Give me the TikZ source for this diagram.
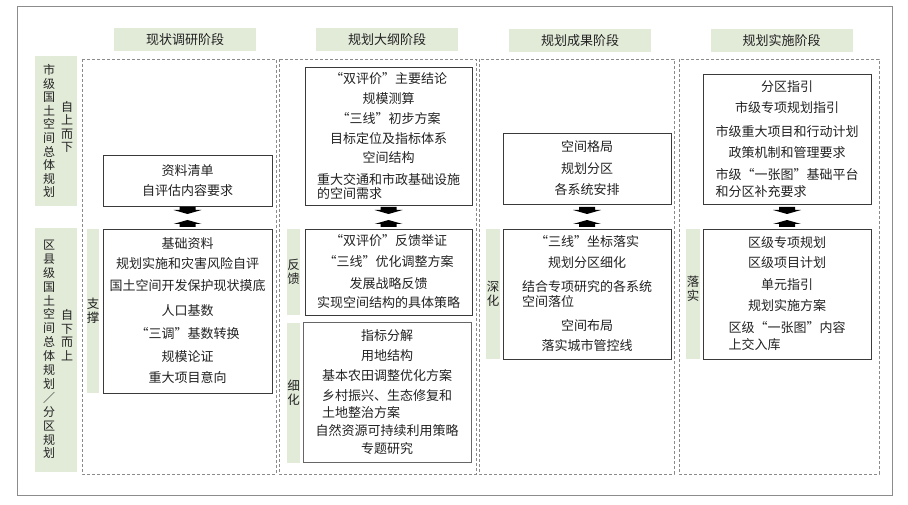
\documentclass[tikz,border=0pt]{standalone}
\usepackage{fontspec}
\setmainfont{Noto Sans CJK SC}
\usetikzlibrary{calc}
\definecolor{gfill}{HTML}{E2EAD8}
\definecolor{framec}{HTML}{8C8C8C}
\definecolor{dashc}{HTML}{8A8A8A}
\definecolor{boxc}{HTML}{3A3A3A}
\definecolor{txtc}{HTML}{222222}
\newlength\wl
\newcommand\wrapl[3]{\setbox0\hbox{#1}\global\wl=\wd0 #1\\[#3]\makebox[\wl][l]{#2}}
\begin{document}
\begin{tikzpicture}[x=1pt,y=-1pt,
  every node/.style={text=txtc},
  mainbox/.style={draw=boxc, line width=0.9pt, inner sep=0pt, align=center, fill=white},
  hdr/.style={fill=gfill, inner sep=0pt, minimum width=142, minimum height=23, font=\fontsize{13}{15}\selectfont},
  gbar/.style={fill=gfill, inner sep=0pt, align=center, font=\fontsize{12.5}{14}\selectfont},
  vlabel/.style={inner sep=0pt, align=center, font=\fontsize{12}{13.6}\selectfont},
  dashframe/.style={draw=dashc, line width=0.7pt, dash pattern=on 3pt off 2pt},
  blockarr/.style={fill=black}
]
\useasboundingbox (0,0) rectangle (908,505);
\fill[white] (0,0) rectangle (908,505);
% outer frame
\draw[framec, line width=0.9pt] (17,6) rectangle (892,495);

% headers
\node[hdr] (h1) at (185,40) {现状调研阶段};
\node[hdr] (h2) at (387,40) {规划大纲阶段};
\node[hdr] (h3) at (580,40.5) {规划成果阶段};
\node[hdr] (h4) at (781.5,40.5) {规划实施阶段};

% row labels
\node[fill=gfill, minimum width=42, minimum height=150, inner sep=0pt] (r1) at (56,131) {};
\node[fill=gfill, minimum width=42, minimum height=244, inner sep=0pt] (r2) at (56,350) {};
\node[vlabel] (r1a) at (49,131) {市\\级\\国\\土\\空\\间\\总\\体\\规\\划};
\node[vlabel] (r1b) at (67,127) {自\\上\\而\\下};
\node[vlabel, font=\fontsize{12}{13.9}\selectfont] (r2a) at (49,349.5) {区\\县\\级\\国\\土\\空\\间\\总\\体\\规\\划\\／\\分\\区\\规\\划};
\node[vlabel] (r2b) at (67,335) {自\\下\\而\\上};

% column frames
\draw[dashframe] (82,59) rectangle (276,474);
\draw[dashframe] (279,59) rectangle (476,474);
\draw[dashframe] (479,59) rectangle (674,474);
\draw[dashframe] (679,59) rectangle (879,474);

% side bars
\node[gbar, minimum width=12, minimum height=164] (s1) at (93,311) {支\\撑};
\node[gbar, minimum width=13, minimum height=86] (s2) at (293.5,272) {反\\馈};
\node[gbar, minimum width=13, minimum height=140] (s3) at (293.5,393) {细\\化};
\node[gbar, minimum width=14, minimum height=130] (s4) at (493,294) {深\\化};
\node[gbar, minimum width=14, minimum height=130] (s5) at (693,294) {};
\node[gbar, fill=none] (s5t) at (693,288.5) {落\\实};

% column 1
\node[mainbox, minimum width=169, minimum height=51, font=\fontsize{13}{20}\selectfont] (b11) at (187.5,180.5)
  {资料清单\\自评估内容要求};
\node[mainbox, minimum width=169, minimum height=164, font=\fontsize{13}{22}\selectfont] (b12) at (187.5,311)
  {基础资料\\[-2pt]规划实施和灾害风险自评\\国土空间开发保护现状摸底\\[3pt]人口基数\\[1pt]“三调”基数转换\\[1pt]规模论证\\[-1pt]重大项目意向};

% column 2
\node[mainbox, minimum width=167, minimum height=138, font=\fontsize{13}{20}\selectfont] (b21) at (388.5,136)
  {“双评价”主要结论\\规模测算\\“三线”初步方案\\目标定位及指标体系\\[-1pt]空间结构\\[2pt]\wrapl{重大交通和市政基础设施}{的空间需求}{-6pt}};
\node[mainbox, minimum width=167, minimum height=86, font=\fontsize{13}{21}\selectfont] (b22) at (388.5,272)
  {“双评价”反馈举证\\“三线”优化调整方案\\[1pt]发展战略反馈\\[-2pt]实现空间结构的具体策略};
\node[mainbox, draw=black!60, minimum width=168, minimum height=140, font=\fontsize{13}{20}\selectfont] (b23) at (387,392)
  {指标分解\\用地结构\\基本农田调整优化方案\\[0pt]\wrapl{乡村振兴、生态修复和}{土地整治方案}{-3pt}\\[-2pt]自然资源可持续利用策略\\[-2pt]专题研究};

% column 3
\node[mainbox, minimum width=168, minimum height=71, font=\fontsize{13}{21.5}\selectfont] (b31) at (587,168.5)
  {空间格局\\规划分区\\各系统安排};
\node[mainbox, minimum width=168, minimum height=130, font=\fontsize{13}{21}\selectfont] (b32) at (587,294)
  {“三线”坐标落实\\规划分区细化\\[3pt]\wrapl{结合专项研究的各系统}{空间落位}{-6pt}\\[3pt]空间布局\\[-1pt]落实城市管控线};

% column 4
\node[mainbox, minimum width=168, minimum height=130, font=\fontsize{13}{21}\selectfont] (b41) at (787,139)
  {分区指引\\市级专项规划指引\\[3pt]市级重大项目和行动计划\\政策机制和管理要求\\[1pt]\wrapl{市级“一张图”基础平台}{和分区补充要求}{-4pt}};
\node[mainbox, minimum width=168, minimum height=130, font=\fontsize{13}{21}\selectfont] (b42) at (787,294)
  {区级专项规划\\[-1pt]区级项目计划\\[1pt]单元指引\\规划实施方案\\[1pt]\wrapl{区级“一张图”内容}{上交入库}{-4pt}};

% block arrows between upper and lower boxes
\coordinate (arow) at (0,207);
\coordinate (brow) at (0,227);
\foreach \b in {b11,b21,b31,b41}{
  \fill[blockarr] (\b.south |- arow) ++(-8,0) -- ++(16,0) -- ++(0,3) -- ++(6,0) -- ++(-14,4) -- ++(-14,-4) -- ++(6,0) -- cycle;
}
\foreach \b in {b12,b22,b32,b42}{
  \fill[blockarr] (\b.north |- brow) ++(-8,0) -- ++(16,0) -- ++(0,-3) -- ++(6,0) -- ++(-14,-4) -- ++(-14,4) -- ++(6,0) -- cycle;
}
\end{tikzpicture}
\end{document}
